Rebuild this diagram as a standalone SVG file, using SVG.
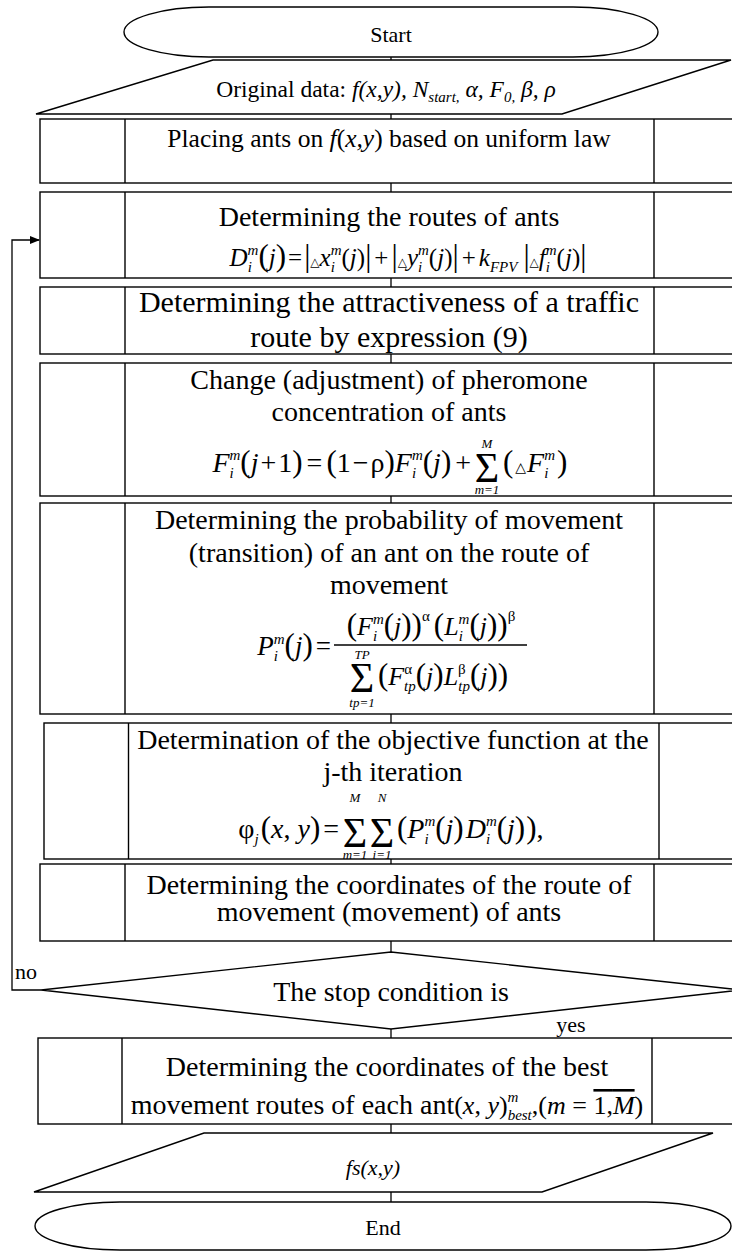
<svg xmlns="http://www.w3.org/2000/svg" width="732" height="1252" viewBox="0 0 732 1252">
<style>
.s{fill:none;stroke:#000;stroke-width:1.4}
.c{fill:none;stroke:#000;stroke-width:1.3}
.t{font-family:"Liberation Serif","Times New Roman",serif;font-size:28px;fill:#000;text-anchor:middle}
.u{font-family:"Liberation Serif","Times New Roman",serif;font-size:22px;fill:#000}
.m{font-family:"Liberation Serif","Times New Roman",serif;font-size:25px;fill:#000}
.m2{font-family:"Liberation Serif","Times New Roman",serif;font-size:28px;fill:#000}
.i{font-style:italic}
.sc{font-size:15px;font-style:italic}
.sn{font-size:15px;font-style:normal}
.p{font-size:31px;font-style:normal}
.tri{font-family:"DejaVu Sans",sans-serif;font-size:12px;font-style:normal}
.big{font-family:"Liberation Serif","Times New Roman",serif;font-size:42px;fill:#000;text-anchor:middle}
.lim{font-family:"Liberation Serif","Times New Roman",serif;font-size:13px;font-style:italic;fill:#000;text-anchor:middle}
</style>
<defs>
<marker id="ah" markerWidth="10" markerHeight="8" refX="9" refY="4" orient="auto" markerUnits="userSpaceOnUse">
<path d="M0,0 L10,4 L0,8 Z" fill="#000"/>
</marker>
</defs>
<rect width="732" height="1252" fill="#fff"/>

<g id="connectors">
<line class="c" x1="391" y1="57" x2="391" y2="60"/>
<line class="c" x1="391" y1="114" x2="391" y2="119"/>
<line class="c" x1="391" y1="183" x2="391" y2="192"/>
<line class="c" x1="391" y1="278" x2="391" y2="287"/>
<line class="c" x1="391" y1="354" x2="391" y2="363"/>
<line class="c" x1="391" y1="496" x2="391" y2="503"/>
<line class="c" x1="391" y1="714" x2="391" y2="723"/>
<line class="c" x1="391" y1="859" x2="391" y2="864"/>
<line class="c" x1="391" y1="941" x2="391" y2="952"/>
<line class="c" x1="391" y1="1029" x2="391" y2="1038"/>
<line class="c" x1="391" y1="1124" x2="391" y2="1133"/>
<line class="c" x1="391" y1="1192" x2="391" y2="1202"/>
<path class="c" d="M41,990 H12 V240 H39" marker-end="url(#ah)"/>
<text class="u" x="15" y="979">no</text>
<text class="u" x="571" y="1032" text-anchor="middle">yes</text>
</g>

<g id="start">
<rect class="s" x="124" y="7" width="534" height="50" rx="85" ry="25"/>
<text class="u" x="391" y="42" text-anchor="middle">Start</text>
</g>

<g id="input">
<polygon class="s" points="213,60 731,60 562,114 36,114"/>
<text class="u" x="386" y="97" text-anchor="middle" style="font-size:23.5px">Original data: <tspan class="i">f(x,y), N</tspan><tspan class="sc" dy="5">start,</tspan><tspan class="i" dy="-5"> α, F</tspan><tspan class="sc" dy="5">0,</tspan><tspan class="i" dy="-5"> β, ρ</tspan></text>
</g>

<g id="placing">
<rect class="s" x="40" y="119" width="720" height="64"/>
<line class="s" x1="125" y1="119" x2="125" y2="183"/>
<line class="s" x1="654" y1="119" x2="654" y2="183"/>
<text class="t" x="389" y="147" style="font-size:25.5px">Placing ants on <tspan class="i">f</tspan>(<tspan class="i">x,y</tspan>) based on uniform law</text>
</g>

<g id="routes">
<rect class="s" x="40" y="192" width="720" height="86"/>
<line class="s" x1="125" y1="192" x2="125" y2="278"/>
<line class="s" x1="654" y1="192" x2="654" y2="278"/>
<text class="t" x="389" y="226">Determining the routes of ants</text>
<text class="m" x="408" y="266" text-anchor="middle"><tspan class="i">D</tspan><tspan class="sc" dy="-11">m</tspan><tspan class="sc" dx="-10.8" dy="17">i</tspan><tspan class="p" dx="6.6" dy="-6">(</tspan><tspan class="i">j</tspan><tspan class="p">)</tspan><tspan dx="2">=</tspan><tspan class="p" dx="2">|</tspan><tspan class="tri">△</tspan><tspan class="i">x</tspan><tspan class="sc" dy="-11">m</tspan><tspan class="sc" dx="-10.8" dy="17">i</tspan><tspan dx="6.6" dy="-6">(</tspan><tspan class="i">j</tspan><tspan>)</tspan><tspan class="p">|</tspan><tspan dx="3">+</tspan><tspan class="p" dx="3">|</tspan><tspan class="tri">△</tspan><tspan class="i">y</tspan><tspan class="sc" dy="-11">m</tspan><tspan class="sc" dx="-10.8" dy="17">i</tspan><tspan dx="6.6" dy="-6">(</tspan><tspan class="i">j</tspan><tspan>)</tspan><tspan class="p">|</tspan><tspan dx="3">+</tspan><tspan class="i" dx="3">k</tspan><tspan class="sc" dy="6">FPV</tspan><tspan class="p" dx="6" dy="-6">|</tspan><tspan class="tri">△</tspan><tspan class="i">f</tspan><tspan class="sc" dy="-11">m</tspan><tspan class="sc" dx="-10.8" dy="17">i</tspan><tspan dx="6.6" dy="-6">(</tspan><tspan class="i">j</tspan><tspan>)</tspan><tspan class="p">|</tspan></text>
</g>

<g id="attract">
<rect class="s" x="40" y="287" width="720" height="67"/>
<line class="s" x1="125" y1="287" x2="125" y2="354"/>
<line class="s" x1="654" y1="287" x2="654" y2="354"/>
<text class="t" x="389" y="312" style="font-size:30px">Determining the attractiveness of a traffic</text>
<text class="t" x="389" y="347" style="font-size:30px">route by expression (9)</text>
</g>

<g id="change">
<rect class="s" x="40" y="363" width="720" height="133"/>
<line class="s" x1="125" y1="363" x2="125" y2="496"/>
<line class="s" x1="654" y1="363" x2="654" y2="496"/>
<text class="t" x="389" y="389">Change (adjustment) of pheromone</text>
<text class="t" x="389" y="421">concentration of ants</text>
<text class="m2" x="471" y="472" text-anchor="end"><tspan class="i">F</tspan><tspan class="sc" dy="-12">m</tspan><tspan class="sc" dx="-10.8" dy="18">i</tspan><tspan class="p" dx="6.6" dy="-6">(</tspan><tspan class="i">j</tspan><tspan dx="2">+</tspan><tspan dx="2">1</tspan><tspan class="p">)</tspan><tspan dx="4">=</tspan><tspan class="p" dx="4">(</tspan>1<tspan dx="2">−</tspan><tspan dx="2">ρ</tspan><tspan class="p">)</tspan><tspan class="i">F</tspan><tspan class="sc" dy="-12">m</tspan><tspan class="sc" dx="-10.8" dy="18">i</tspan><tspan class="p" dx="6.6" dy="-6">(</tspan><tspan class="i">j</tspan><tspan class="p">)</tspan><tspan dx="4">+</tspan></text>
<text class="big" x="487" y="482">Σ</text>
<text class="lim" x="487" y="448">M</text>
<text class="lim" x="487" y="494">m=1</text>
<text class="m2" x="503" y="472"><tspan class="p">(</tspan><tspan class="tri" dx="2" style="font-size:14px">△</tspan><tspan class="i" dx="1">F</tspan><tspan class="sc" dy="-12">m</tspan><tspan class="sc" dx="-10.8" dy="18">i</tspan><tspan class="p" dx="8.6" dy="-6">)</tspan></text>
</g>

<g id="probability">
<rect class="s" x="40" y="503" width="720" height="211"/>
<line class="s" x1="125" y1="503" x2="125" y2="714"/>
<line class="s" x1="654" y1="503" x2="654" y2="714"/>
<text class="t" x="389" y="529">Determining the probability of movement</text>
<text class="t" x="389" y="562">(transition) of an ant on the route of</text>
<text class="t" x="389" y="594">movement</text>
<text class="m2" x="331" y="655" text-anchor="end" style="font-size:27px"><tspan class="i">P</tspan><tspan class="sc" dy="-11">m</tspan><tspan class="sc" dx="-10.8" dy="17">i</tspan><tspan class="p" dx="6.6" dy="-6">(</tspan><tspan class="i">j</tspan><tspan class="p">)</tspan><tspan dx="3">=</tspan></text>
<line class="c" x1="334" y1="645" x2="527" y2="645"/>
<text class="m" x="431" y="635" text-anchor="middle" style="font-size:26px"><tspan class="p">(</tspan><tspan class="i">F</tspan><tspan class="sc" dy="-11">m</tspan><tspan class="sc" dx="-10.8" dy="17">i</tspan><tspan class="p" dx="6.6" dy="-6">(</tspan><tspan class="i">j</tspan><tspan class="p">))</tspan><tspan class="sn" dy="-14">α</tspan><tspan class="p" dx="4" dy="14">(</tspan><tspan class="i">L</tspan><tspan class="sc" dy="-11">m</tspan><tspan class="sc" dx="-10.8" dy="17">i</tspan><tspan class="p" dx="6.6" dy="-6">(</tspan><tspan class="i">j</tspan><tspan class="p">))</tspan><tspan class="sn" dy="-14">β</tspan></text>
<text class="big" x="362" y="692">Σ</text>
<text class="lim" x="362" y="659">TP</text>
<text class="lim" x="362" y="707">tp=1</text>
<text class="m" x="378" y="685" style="font-size:26px"><tspan class="p">(</tspan><tspan class="i">F</tspan><tspan class="sn" dy="-11">α</tspan><tspan class="sc" dx="-8" dy="17">tp</tspan><tspan class="p" dy="-6">(</tspan><tspan class="i">j</tspan><tspan class="p">)</tspan><tspan class="i">L</tspan><tspan class="sn" dy="-11">β</tspan><tspan class="sc" dx="-7.5" dy="17">tp</tspan><tspan class="p" dy="-6">(</tspan><tspan class="i">j</tspan><tspan class="p">))</tspan></text>
</g>

<g id="objective">
<rect class="s" x="44" y="723" width="720" height="136"/>
<line class="s" x1="128.5" y1="723" x2="128.5" y2="859"/>
<line class="s" x1="659" y1="723" x2="659" y2="859"/>
<text class="t" x="393" y="749">Determination of the objective function at the</text>
<text class="t" x="393" y="781">j-th iteration</text>
<text class="m2" x="339" y="838" text-anchor="end">φ<tspan class="sc" dy="6">j</tspan><tspan class="p" dx="2" dy="-6">(</tspan><tspan class="i">x</tspan>, <tspan class="i">y</tspan><tspan class="p">)</tspan><tspan dx="3">=</tspan></text>
<text class="big" x="355" y="847">Σ</text>
<text class="big" x="382" y="847">Σ</text>
<text class="lim" x="355" y="802">M</text>
<text class="lim" x="382" y="802">N</text>
<text class="lim" x="355" y="859">m=1</text>
<text class="lim" x="382" y="859">i=1</text>
<text class="m2" x="397" y="838"><tspan class="p">(</tspan><tspan class="i">P</tspan><tspan class="sc" dy="-12">m</tspan><tspan class="sc" dx="-10.8" dy="18">i</tspan><tspan class="p" dx="6.6" dy="-6">(</tspan><tspan class="i">j</tspan><tspan class="p">)</tspan><tspan class="i" dx="2">D</tspan><tspan class="sc" dy="-12">m</tspan><tspan class="sc" dx="-10.8" dy="18">i</tspan><tspan class="p" dx="6.6" dy="-6">(</tspan><tspan class="i">j</tspan><tspan class="p">)</tspan><tspan class="p" dx="1">)</tspan>,</text>
</g>

<g id="coordinates">
<rect class="s" x="40" y="864" width="720" height="77"/>
<line class="s" x1="125" y1="864" x2="125" y2="941"/>
<line class="s" x1="654" y1="864" x2="654" y2="941"/>
<text class="t" x="389" y="894">Determining the coordinates of the route of</text>
<text class="t" x="389" y="921">movement (movement) of ants</text>
</g>

<g id="decision">
<polygon class="s" points="41,990 391,952 741,990 391,1029"/>
<text class="t" x="391" y="1001">The stop condition is</text>
</g>

<g id="best">
<rect class="s" x="38" y="1038" width="720" height="86"/>
<line class="s" x1="122" y1="1038" x2="122" y2="1124"/>
<line class="s" x1="652" y1="1038" x2="652" y2="1124"/>
<text class="t" x="387" y="1076">Determining the coordinates of the best</text>
<text class="t" x="387" y="1114">movement routes of each ant<tspan style="font-size:26px">(<tspan class="i">x</tspan>, <tspan class="i">y</tspan>)</tspan><tspan class="sc" dy="-12">m</tspan><tspan class="sc" dx="-10.8" dy="18">best</tspan><tspan style="font-size:26px" dy="-6">,(<tspan class="i">m</tspan> = <tspan style="text-decoration:overline">1,<tspan class="i">M</tspan></tspan>)</tspan></text>
</g>

<g id="output">
<polygon class="s" points="204,1133 713,1133 542,1192 34,1192"/>
<text class="u i" x="373" y="1175" text-anchor="middle">fs(x,y)</text>
</g>

<g id="end">
<rect class="s" x="35" y="1202" width="696" height="48" rx="85" ry="24"/>
<text class="u" x="383" y="1235" text-anchor="middle">End</text>
</g>
</svg>
